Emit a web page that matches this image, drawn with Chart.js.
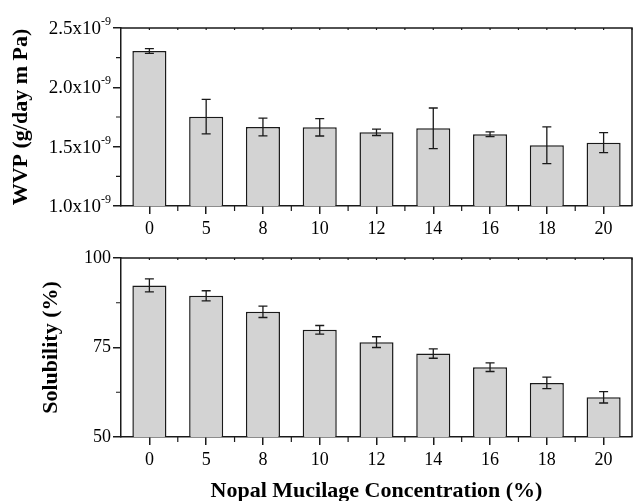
<!DOCTYPE html>
<html>
<head>
<meta charset="utf-8">
<script src="https://cdn.jsdelivr.net/npm/chart.js@4.4.1/dist/chart.umd.min.js"></script>
<style>
  body { margin: 0; background: #fff; }
  #wrap { position: relative; width: 633px; height: 501px; }
  canvas { position: absolute; left: 0; }
  #wvpChart { top: 0; }
  #solChart { top: 240px; }
</style>
</head>
<body>
<div id="wrap">
  <canvas id="wvpChart" width="633" height="240"></canvas>
  <canvas id="solChart" width="633" height="261"></canvas>
</div>
<script>
// concentrations (%)
var categories = ['0', '5', '8', '10', '12', '14', '16', '18', '20'];

// water vapour permeability, g/(day m Pa)
var wvpValues = [2.306e-9, 1.753e-9, 1.666e-9, 1.663e-9, 1.621e-9, 1.655e-9, 1.604e-9, 1.512e-9, 1.534e-9];
var wvpErrors = [0.020e-9, 0.146e-9, 0.075e-9, 0.073e-9, 0.027e-9, 0.171e-9, 0.020e-9, 0.155e-9, 0.085e-9];
var wvpTickLabels = ['1.0', '1.5', '2.0', '2.5'];
var wvpExponent = '-9';

// solubility (%)
var solValues = [92.35, 89.45, 84.98, 79.94, 76.5, 73.3, 69.5, 65.1, 61.1];
var solErrors = [1.8, 1.4, 1.6, 1.2, 1.5, 1.3, 1.2, 1.6, 1.6];

Chart.defaults.font.family = "'Liberation Serif', 'Times New Roman', serif";
Chart.defaults.color = '#000';

var ink = '#1a1a1a';

// error bars drawn from the dataset values
var errorBarPlugin = {
    id: 'errorBars',
    afterDatasetsDraw: function(chart, args, opts) {
        var ctx = chart.ctx;
        var ys = chart.scales.y;
        var ds = chart.data.datasets[0];
        var meta = chart.getDatasetMeta(0);
        ctx.save();
        ctx.strokeStyle = ink;
        ctx.lineWidth = 1.3;
        meta.data.forEach(function(bar, i) {
            var v = ds.data[i], e = opts.errors[i];
            var yTop = ys.getPixelForValue(v + e);
            var yBot = ys.getPixelForValue(v - e);
            ctx.beginPath();
            ctx.moveTo(bar.x, yTop); ctx.lineTo(bar.x, yBot);
            ctx.moveTo(bar.x - 4.5, yTop); ctx.lineTo(bar.x + 4.5, yTop);
            ctx.moveTo(bar.x - 4.5, yBot); ctx.lineTo(bar.x + 4.5, yBot);
            ctx.stroke();
        });
        ctx.restore();
    }
};

// closed frame plus minor ticks
var framePlugin = {
    id: 'frame',
    afterDraw: function(chart) {
        var ctx = chart.ctx, a = chart.chartArea;
        var xs = chart.scales.x, ys = chart.scales.y;
        ctx.save();
        ctx.strokeStyle = ink;
        ctx.lineWidth = 1.5;
        ctx.beginPath();
        ctx.moveTo(a.left, a.top); ctx.lineTo(a.right, a.top); ctx.lineTo(a.right, a.bottom);
        ctx.stroke();

        ctx.lineWidth = 1.2;
        ctx.beginPath();
        var step = xs.getPixelForValue(1) - xs.getPixelForValue(0);
        for (var i = 0; i < categories.length; i++) {
            var cx = xs.getPixelForValue(i);
            var bx = cx + step / 2;
            if (i < categories.length - 1) {
                ctx.moveTo(bx, a.bottom); ctx.lineTo(bx, a.bottom + 5);
            }
            ctx.moveTo(bx, a.top); ctx.lineTo(bx, a.top + 2);
            ctx.moveTo(cx, a.top); ctx.lineTo(cx, a.top + 2);
        }
        var t = ys.ticks;
        for (var j = 0; j < t.length - 1; j++) {
            var my = ys.getPixelForValue((t[j].value + t[j + 1].value) / 2);
            ctx.moveTo(a.left, my); ctx.lineTo(a.left - 5, my);
        }
        ctx.stroke();
        ctx.restore();
    }
};

// y labels with a superscript exponent
var wvpLabelPlugin = {
    id: 'wvpLabels',
    afterDraw: function(chart) {
        var ctx = chart.ctx, ys = chart.scales.y;
        ctx.save();
        ctx.fillStyle = '#000';
        ctx.textAlign = 'right';
        ctx.textBaseline = 'alphabetic';
        ys.ticks.forEach(function(tk, i) {
            var py = ys.getPixelForValue(tk.value);
            var right = ys.right - 10;
            ctx.font = "12px 'Liberation Serif'";
            var supW = ctx.measureText(wvpExponent).width;
            ctx.fillText(wvpExponent, right, py - 3);
            ctx.font = "19px 'Liberation Serif'";
            ctx.fillText(wvpTickLabels[i] + 'x10', right - supW, py + 6);
        });
        ctx.restore();
    }
};

function xAxis(height, titleOpts) {
    return {
        type: 'category',
        offset: true,
        grid: { offset: false, drawOnChartArea: false, color: ink, lineWidth: 1.5, tickLength: 8 },
        border: { color: ink, width: 1.5 },
        ticks: { font: { size: 18 }, padding: 4, color: '#000' },
        title: titleOpts,
        afterFit: function(scale) { scale.height = height; }
    };
}

var wvpChart = new Chart(document.getElementById('wvpChart').getContext('2d'), {
    type: 'bar',
    data: {
        labels: categories,
        datasets: [{
            data: wvpValues,
            backgroundColor: '#d3d3d3',
            borderColor: ink,
            borderWidth: 1.5,
            borderSkipped: false,
            barPercentage: 0.6,
            categoryPercentage: 1
        }]
    },
    options: {
        responsive: false,
        animation: false,
        layout: { padding: { top: 28, right: 1, left: 0, bottom: 0 } },
        plugins: {
            legend: { display: false },
            tooltip: { enabled: false },
            errorBars: { errors: wvpErrors }
        },
        scales: {
            x: xAxis(34, { display: false }),
            y: {
                min: 1.0e-9,
                max: 2.5e-9,
                grid: { drawOnChartArea: false, color: ink, lineWidth: 1.5, tickLength: 8 },
                border: { color: ink, width: 1.5 },
                ticks: { stepSize: 0.5e-9, display: false },
                title: {
                    display: true,
                    text: 'WVP (g/day m Pa)',
                    font: { size: 22, weight: 'bold', lineHeight: 1 },
                    padding: { top: 10, bottom: 0 },
                    color: '#000'
                },
                afterFit: function(scale) { scale.width = 121; }
            }
        }
    },
    plugins: [errorBarPlugin, framePlugin, wvpLabelPlugin]
});

var solChart = new Chart(document.getElementById('solChart').getContext('2d'), {
    type: 'bar',
    data: {
        labels: categories,
        datasets: [{
            data: solValues,
            backgroundColor: '#d3d3d3',
            borderColor: ink,
            borderWidth: 1.5,
            borderSkipped: false,
            barPercentage: 0.6,
            categoryPercentage: 1
        }]
    },
    options: {
        responsive: false,
        animation: false,
        layout: { padding: { top: 18, right: 1, left: 0, bottom: 0 } },
        plugins: {
            legend: { display: false },
            tooltip: { enabled: false },
            errorBars: { errors: solErrors }
        },
        scales: {
            x: xAxis(64, {
                display: true,
                text: 'Nopal Mucilage Concentration (%)',
                font: { size: 22, weight: 'bold', lineHeight: 1 },
                padding: { top: 0, bottom: -1 },
                color: '#000'
            }),
            y: {
                min: 50,
                max: 100,
                grid: { drawOnChartArea: false, color: ink, lineWidth: 1.5, tickLength: 8 },
                border: { color: ink, width: 1.5 },
                ticks: { stepSize: 25, font: { size: 18 }, padding: 2, color: '#000' },
                title: {
                    display: true,
                    text: 'Solubility (%)',
                    font: { size: 22, weight: 'bold', lineHeight: 1 },
                    padding: { top: 40, bottom: 0 },
                    color: '#000'
                },
                afterFit: function(scale) { scale.width = 121; }
            }
        }
    },
    plugins: [errorBarPlugin, framePlugin]
});
</script>
</body>
</html>
